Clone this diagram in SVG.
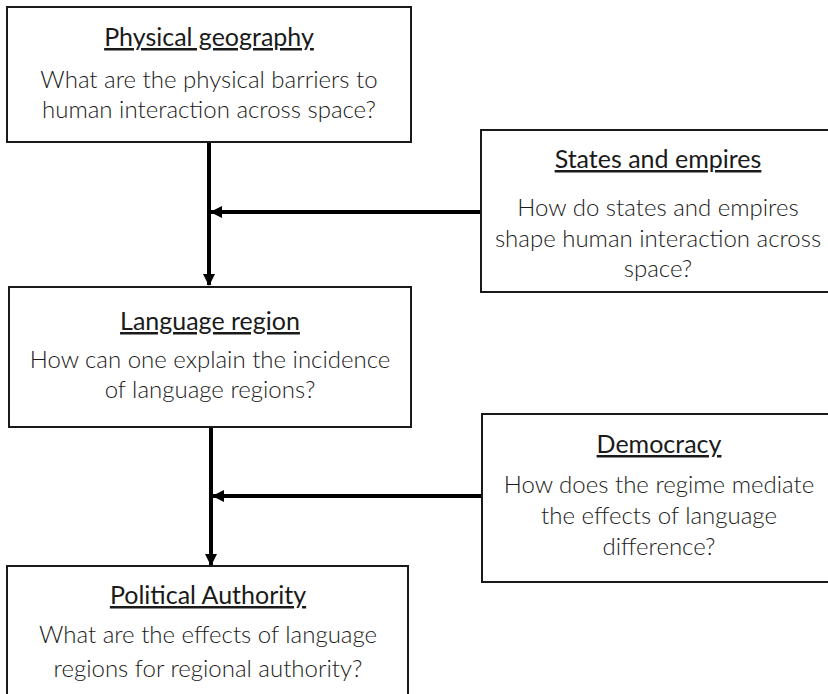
<svg xmlns="http://www.w3.org/2000/svg" width="828" height="694" viewBox="0 0 828 694">
<defs>
<style>
.box{fill:#fff;stroke:#1a1a1a;stroke-width:2}
.t{font-family:Lato,"Liberation Sans",sans-serif;font-size:25px;fill:#1a1a1a;text-anchor:middle;text-decoration:underline}
.b{font-family:Lato,"Liberation Sans",sans-serif;font-weight:300;font-size:24px;fill:#1a1a1a;text-anchor:middle}
.c{stroke:#000;stroke-width:4;fill:none}
</style>
<marker id="ah" viewBox="0 0 12 12" refX="11" refY="6" markerWidth="12" markerHeight="12" markerUnits="userSpaceOnUse" orient="auto">
<path d="M0,0 L12,6 L0,12 Z" fill="#000"/>
</marker>
</defs>
<rect width="828" height="694" fill="#fff"/>
<g id="connectors">
<line class="c" x1="209" y1="142" x2="209" y2="285" marker-end="url(#ah)"/>
<line class="c" x1="481" y1="212" x2="211" y2="212" marker-end="url(#ah)"/>
<line class="c" x1="211" y1="427" x2="211" y2="565" marker-end="url(#ah)"/>
<line class="c" x1="482" y1="496" x2="213" y2="496" marker-end="url(#ah)"/>
</g>
<g id="physical-geography">
<rect class="box" x="7" y="7" width="404" height="135"/>
<text class="t" x="209" y="46">Physical geography</text>
<text class="b" x="209" y="88">What are the physical barriers to</text>
<text class="b" x="209" y="118">human interaction across space?</text>
</g>
<g id="states-and-empires">
<rect class="box" x="481" y="130" width="356" height="162"/>
<text class="t" x="658" y="168">States and empires</text>
<text class="b" x="658" y="216">How do states and empires</text>
<text class="b" x="658" y="247">shape human interaction across</text>
<text class="b" x="658" y="277">space?</text>
</g>
<g id="language-region">
<rect class="box" x="9" y="287" width="402" height="140"/>
<text class="t" x="210" y="330">Language region</text>
<text class="b" x="210" y="368">How can one explain the incidence</text>
<text class="b" x="210" y="398">of language regions?</text>
</g>
<g id="democracy">
<rect class="box" x="482" y="414" width="356" height="168"/>
<text class="t" x="659" y="453">Democracy</text>
<text class="b" x="659" y="493">How does the regime mediate</text>
<text class="b" x="659" y="524">the effects of language</text>
<text class="b" x="659" y="555">difference?</text>
</g>
<g id="political-authority">
<rect class="box" x="7" y="566" width="401" height="140"/>
<text class="t" x="208" y="604">Political Authority</text>
<text class="b" x="208" y="643">What are the effects of language</text>
<text class="b" x="208" y="677">regions for regional authority?</text>
</g>
</svg>
